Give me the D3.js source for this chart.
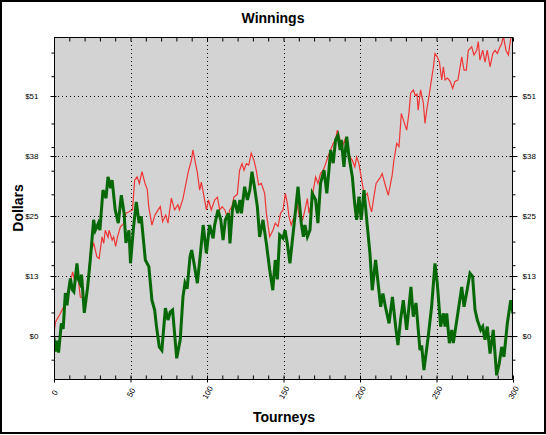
<!DOCTYPE html>
<html>
<head>
<meta charset="utf-8">
<script src="https://cdn.jsdelivr.net/npm/d3@7"></script>
<style>
body { margin: 0; background: #fff; }
text { font-family: Arial, "Liberation Sans", sans-serif; }
</style>
</head>
<body>
<div id="chart"></div>
<script>
var width = 546;
var height = 435;

// tourney index and dollars
var redX = [0,1,3.5,6,7.8,10,12.2,14,15,17.2,19,19.8,22,23.7,26,28,29.5,31.4,32.5,33.5,35.3,36,38,39,40.3,41.5,43.4,45.8,47,49,51.3,52.7,54.3,55.8,57.5,59.5,61,61.9,64,66,68,69.5,71,73,74.5,76.7,78.8,81,82,84.3,85.8,88,89.8,90.8,92.4,93.7,95.2,96.3,98.1,99.6,101,102.8,105,106.8,108.3,109.9,111.7,113.7,114.8,116.3,117.6,119.8,121.3,122.9,124.2,125.7,127.3,128.9,130.7,132.2,133.7,135.5,137.7,138.8,141,143.1,144.6,146.4,148.1,149.7,151.2,152.5,153.6,155,157,158.8,160.3,162.5,164,165.6,166.7,167.7,169.5,171,172.5,174.2,176,177.6,179,180.8,182.5,184,185.2,187,188.5,190,191.8,193.5,195,196.6,197.8,199.3,200.4,201.5,203,204.8,206.5,207.6,209.1,210.5,213.5,214.5,217,218.5,221,222.2,224,225.5,227,228.3,230.5,232,233.1,234.9,236,237.3,238,239.6,241.4,242.5,243.6,245.4,247,248,249,250.5,251.9,253.4,254.5,255.6,257.2,258.9,260.6,262,264,266.5,268,269.5,270.8,273,274.5,276.3,277.3,278.4,280.2,281.7,283.2,285,286.8,288.3,289.8,291.1,292.6,293.7,295.4,297,298.5,300];
var redY = [0.5,3.0,4.4,6.0,8.0,10.5,13.6,11.0,14.5,8.3,8.0,6.0,11.0,17.5,19.6,16.8,16.4,21.0,19.6,22.4,20.9,22.4,20.3,21.0,19.0,21.0,23.1,23.9,26.0,26.3,26.7,33.0,33.7,32.3,34.8,32.3,31.0,27.4,23.5,25.6,26.7,27.4,24.2,25.6,23.9,29.2,26.7,27.8,26.7,29.1,31.6,35.1,37.2,39.4,36.7,34.6,30.9,32.6,29.4,26.7,28.8,26.7,28.8,29.4,26.7,27.4,26.7,24.6,26.7,27.4,29.4,30.0,35.1,36.5,35.1,36.5,36.2,38.7,37.2,35.1,32.0,32.3,30.2,26.0,21.0,22.4,23.9,23.2,26.0,26.7,30.2,28.1,25.3,23.5,25.3,28.1,25.3,24.6,26.7,29.1,26.0,27.4,30.9,33.7,32.3,34.4,35.1,36.5,37.9,39.4,40.8,41.5,43.6,41.5,40.1,41.5,39.4,37.9,37.2,35.8,37.9,36.5,34.4,32.3,29.5,30.2,27.4,26.3,29.5,32.3,33.7,34.4,31.4,29.8,34.0,37.3,40.8,40.1,47.1,45.8,43.6,47.2,51.4,52.1,51.0,51.2,47.8,52.1,49.3,45.0,47.8,51.4,54.9,57.0,59.8,59.1,58.0,54.2,57.0,54.2,54.6,53.9,52.4,53.9,54.2,59.1,56.3,56.3,60.5,61.2,59.5,60.5,62.3,58.4,60.5,58.0,60.5,57.0,59.8,60.5,59.8,60.9,61.9,63.5,60.5,59.5,63.0,63.5];

var greenX = [0,1,2,3,4.8,6,7.4,8.5,9.6,10.7,12,13,15,16,17,18,19.8,22,23.7,25.9,27,29,30,32,34,35.3,37,38,40,42,44,45.8,47,49,50,52,53.8,55.6,57,59.7,62,64,65.8,67,68.8,70.5,72.8,74.5,76,77.5,80.2,82.5,84.3,85.6,87,88.9,90,91.5,93.7,95.5,97.5,99.6,101.7,104,105,107.2,109,110.5,112,114,115,116.6,118,120,121.5,122.5,124.6,126.4,128,129.4,131,132.9,134.4,136.6,138.8,141,143,144.6,146,147.5,149.7,151,152.5,154.2,157,159.5,161.6,163,164,165.6,167.3,168.8,171,172.5,174.2,176.5,178.3,179.7,180.8,182.5,184,185.6,187,187.8,189.5,191.3,192.8,195,196.5,197.8,199.3,200.8,202.6,204.4,206.5,208,210.2,213.5,215,216.6,219,221.2,223.3,224.8,226.5,228.3,230.5,233.3,234.8,236.6,239.2,240.3,241.8,244.6,246.8,249,250.5,252.7,254.5,255.6,256.7,258.4,260,261,263.6,266.5,268,270,271.9,273.6,275.2,276.7,278.9,280.2,281.7,283.2,285,287.1,289.3,291,292.6,294.1,296.3,298.5,300];
var greenY = [-0.4,-3.3,-1.0,-3.5,2.7,1.5,9.1,6.5,9.7,12.2,9.8,9.4,15.4,12.0,11.2,13.0,4.9,10.4,16.1,24.6,22.4,23.9,22.4,30.9,29.2,33.7,31.3,33.0,26.7,23.9,29.8,26.0,19.7,22.4,15.4,23.1,28.4,23.9,25.3,16.1,14.7,7.6,5.5,2.0,-2.3,-3.0,5.9,3.4,5.1,5.5,-4.7,-0.8,8.3,11.2,10.0,16.8,18.2,15.4,11.2,16.8,23.5,17.5,23.5,20.7,23.5,26.7,24.6,20.3,24.6,26.0,19.6,26.7,28.8,26.0,28.8,26.0,31.6,28.8,30.9,34.8,31.6,27.4,21.0,24.6,19.6,14.0,9.7,16.1,12.0,21.4,20.7,22.4,19.6,15.4,23.9,31.6,23.9,21.0,23.5,21.0,22.4,30.2,28.8,23.9,32.3,35.1,30.2,35.1,39.4,36.6,41.5,42.5,39.4,41.5,35.8,42.2,38.0,33.7,28.1,24.6,29.5,24.6,30.9,24.6,17.5,9.7,16.1,6.2,9.0,6.2,2.7,8.3,2.0,-1.9,3.4,7.6,1.3,10.4,4.1,7.0,-3.0,-2.0,-7.2,-0.1,6.2,15.4,11.2,2.0,4.8,2.0,4.8,-1.5,1.3,-1.5,4.1,10.4,6.2,9.7,13.3,12.6,5.5,3.4,1.3,2.0,-0.8,2.0,-3.7,1.3,-8.3,-5.8,-2.3,-4.4,2.7,7.6,4.8];

var yTicks = [0, 12.7, 25.4, 38.1, 50.8];
var yTickLabels = ["$0", "$13", "$25", "$38", "$51"];
var yMinor = [-5,5,10,15,20,30,35,40,45,55,60];
var xTicks = [0, 50, 100, 150, 200, 250, 300];
var xMinor = d3.range(0, 301, 10);

var plotL = 54, plotR = 513, plotT = 37, plotB = 380;

var svg = d3.select("#chart").append("svg").attr("width", width).attr("height", height);

svg.append("rect").attr("x", 1).attr("y", 1).attr("width", width - 2).attr("height", 432)
  .attr("fill", "#fff").attr("stroke", "#000").attr("stroke-width", 2);

var x = d3.scaleLinear().domain([0, 300]).range([plotL, plotR]);
var y = d3.scaleLinear().domain([-9.3, 63.3]).range([plotB, plotT]);

svg.append("rect").attr("x", plotL).attr("y", plotT).attr("width", plotR - plotL).attr("height", plotB - plotT)
  .attr("fill", "#d3d3d3");

svg.append("clipPath").attr("id", "clip").append("rect")
  .attr("x", plotL).attr("y", plotT).attr("width", plotR - plotL).attr("height", plotB - plotT);

// dotted grid
svg.selectAll(".vgrid").data(xTicks.slice(1, -1)).enter().append("line")
  .attr("x1", function(d) { return Math.round(x(d)) + 0.5; })
  .attr("x2", function(d) { return Math.round(x(d)) + 0.5; })
  .attr("y1", plotT).attr("y2", plotB)
  .attr("stroke", "#000").attr("stroke-dasharray", "1,3");
svg.selectAll(".hgrid").data(yTicks.slice(1)).enter().append("line")
  .attr("y1", function(d) { return Math.round(y(d)) + 0.5; })
  .attr("y2", function(d) { return Math.round(y(d)) + 0.5; })
  .attr("x1", plotL).attr("x2", plotR)
  .attr("stroke", "#000").attr("stroke-dasharray", "1,3");
svg.append("line").attr("x1", plotL).attr("x2", plotR)
  .attr("y1", Math.round(y(0)) + 0.5).attr("y2", Math.round(y(0)) + 0.5)
  .attr("stroke", "#000");

var line = d3.line()
  .x(function(d) { return x(d[0]); })
  .y(function(d) { return y(d[1]); });

svg.append("path").datum(d3.zip(redX, redY))
  .attr("clip-path", "url(#clip)")
  .attr("d", line).attr("fill", "none").attr("stroke", "#f03535").attr("stroke-width", 1.2);
svg.append("path").datum(d3.zip(greenX, greenY))
  .attr("clip-path", "url(#clip)")
  .attr("d", line).attr("fill", "none").attr("stroke", "#066806").attr("stroke-width", 3);

svg.append("rect").attr("x", plotL + 0.5).attr("y", plotT + 0.5).attr("width", plotR - plotL - 1).attr("height", plotB - plotT - 1)
  .attr("fill", "none").attr("stroke", "#000");

// axes
var yLeft = svg.append("g").attr("transform", "translate(" + (plotL + 0.5) + ",0)")
  .call(d3.axisLeft(y).tickValues(yTicks).tickSize(6).tickPadding(10)
    .tickFormat(function(d, i) { return yTickLabels[i]; }));
var yRight = svg.append("g").attr("transform", "translate(" + (plotR - 0.5) + ",0)")
  .call(d3.axisRight(y).tickValues(yTicks).tickSize(5).tickPadding(5)
    .tickFormat(function(d, i) { return yTickLabels[i]; }));
svg.append("g").attr("transform", "translate(" + (plotL + 0.5) + ",0)")
  .call(d3.axisLeft(y).tickValues(yMinor).tickSize(3).tickFormat(""));
svg.append("g").attr("transform", "translate(" + (plotR - 0.5) + ",0)")
  .call(d3.axisRight(y).tickValues(yMinor).tickSize(3).tickFormat(""));
svg.append("g").attr("transform", "translate(0," + (plotB - 0.5) + ")")
  .call(d3.axisTop(x).tickValues(xMinor).tickSize(4).tickFormat(""));
svg.append("g").attr("transform", "translate(0," + (plotT + 0.5) + ")")
  .call(d3.axisBottom(x).tickValues(xMinor).tickSize(4).tickFormat(""));
svg.append("g").attr("transform", "translate(0," + (plotB - 0.5) + ")")
  .call(d3.axisBottom(x).tickValues(xTicks).tickSize(3).tickFormat(""));

svg.selectAll(".domain").remove();
svg.selectAll(".tick line").attr("stroke", "#000");
yLeft.selectAll(".tick line").attr("x2", 2).attr("x1", -4);
yRight.selectAll(".tick line").attr("x1", -3).attr("x2", 5);
svg.selectAll(".tick text").attr("font-size", "8px").attr("fill", "#000")
  .attr("font-family", "Liberation Sans Narrow, Arial Narrow, Arial, sans-serif");

svg.selectAll(".xlab").data(xTicks).enter().append("text")
  .attr("transform", function(d) { return "translate(" + (x(d) + 3) + "," + 394 + ") rotate(-60)"; })
  .attr("text-anchor", "middle")
  .attr("font-size", "8px")
  .attr("font-family", "Liberation Sans Narrow, Arial Narrow, Arial, sans-serif")
  .text(function(d) { return d; });

svg.append("text").attr("x", 273).attr("y", 23).attr("text-anchor", "middle")
  .attr("font-size", "14px").attr("font-weight", "bold").text("Winnings");
svg.append("text").attr("transform", "translate(23,208) rotate(-90)").attr("text-anchor", "middle")
  .attr("font-size", "14px").attr("font-weight", "bold").text("Dollars");
svg.append("text").attr("x", 284).attr("y", 422).attr("text-anchor", "middle")
  .attr("font-size", "14px").attr("font-weight", "bold").text("Tourneys");
</script>
</body>
</html>
